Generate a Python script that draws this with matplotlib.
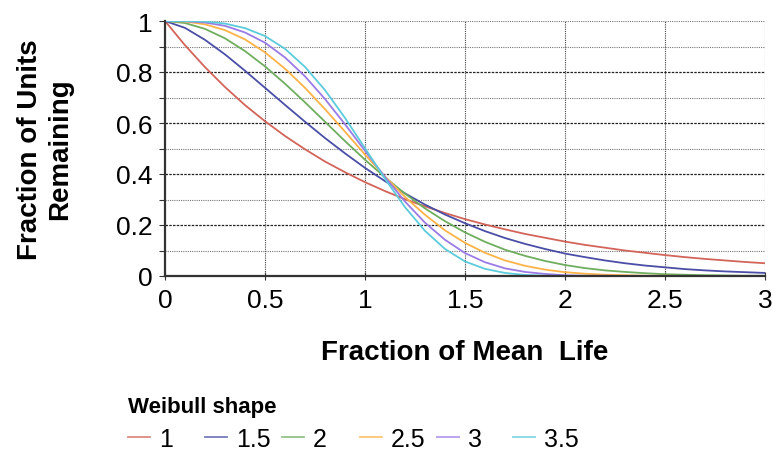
import matplotlib
matplotlib.use("Agg")
import matplotlib.pyplot as plt
from matplotlib.lines import Line2D
from matplotlib.ticker import MultipleLocator

plt.rcParams['font.family'] = ['Liberation Sans', 'DejaVu Sans']

x = [0.0, 0.1, 0.2, 0.3, 0.4, 0.5, 0.6, 0.7, 0.8, 0.9, 1.0,
     1.1, 1.2, 1.3, 1.4, 1.5, 1.6, 1.7, 1.8, 1.9, 2.0,
     2.1, 2.2, 2.3, 2.4, 2.5, 2.6, 2.7, 2.8, 2.9, 3.0]

shape_1 = [1.000, 0.905, 0.819, 0.741, 0.670, 0.607, 0.549, 0.497, 0.449, 0.407, 0.368,
           0.333, 0.301, 0.273, 0.247, 0.223, 0.202, 0.183, 0.165, 0.150, 0.135,
           0.122, 0.111, 0.100, 0.091, 0.082, 0.074, 0.067, 0.061, 0.055, 0.050]
shape_1_5 = [1.000, 0.973, 0.926, 0.869, 0.805, 0.738, 0.671, 0.605, 0.541, 0.481, 0.424,
             0.372, 0.324, 0.280, 0.241, 0.207, 0.176, 0.149, 0.126, 0.106, 0.088,
             0.074, 0.061, 0.050, 0.041, 0.034, 0.027, 0.022, 0.018, 0.015, 0.012]
shape_2 = [1.000, 0.992, 0.969, 0.932, 0.882, 0.822, 0.754, 0.681, 0.605, 0.529, 0.456,
           0.387, 0.323, 0.265, 0.215, 0.171, 0.134, 0.103, 0.079, 0.059, 0.043,
           0.031, 0.022, 0.016, 0.011, 0.007, 0.005, 0.003, 0.002, 0.001, 0.001]
shape_2_5 = [1.000, 0.998, 0.987, 0.964, 0.928, 0.877, 0.813, 0.738, 0.654, 0.566, 0.476,
             0.390, 0.310, 0.240, 0.179, 0.130, 0.091, 0.061, 0.040, 0.025, 0.015,
             0.009, 0.005, 0.003, 0.001, 0.001, 0.000, 0.000, 0.000, 0.000, 0.000]
shape_3 = [1.000, 0.999, 0.994, 0.981, 0.955, 0.915, 0.857, 0.783, 0.694, 0.595, 0.491,
           0.388, 0.292, 0.209, 0.142, 0.090, 0.054, 0.030, 0.016, 0.008, 0.003,
           0.001, 0.001, 0.000, 0.000, 0.000, 0.000, 0.000, 0.000, 0.000, 0.000]
shape_3_5 = [1.000, 1.000, 0.998, 0.990, 0.972, 0.941, 0.891, 0.820, 0.729, 0.620, 0.501,
             0.381, 0.270, 0.177, 0.106, 0.057, 0.028, 0.012, 0.004, 0.001, 0.000,
             0.000, 0.000, 0.000, 0.000, 0.000, 0.000, 0.000, 0.000, 0.000, 0.000]

labels = ["1", "1.5", "2", "2.5", "3", "3.5"]
series = [shape_1, shape_1_5, shape_2, shape_2_5, shape_3, shape_3_5]
colors = ["#D2645A", "#4A4EA6", "#6FAE5E", "#FFB347", "#9A7BE6", "#5CCBDB"]

W, H = 772, 452
fig = plt.figure(figsize=(W / 100, H / 100), dpi=100)
ax = fig.add_axes([165 / W, (H - 277) / H, 600 / W, 255 / H])

# grid
for yv in [0.2, 0.4, 0.6, 0.8]:
    ax.axhline(yv, color="#222222", lw=0.9, ls=(0, (2, 1)), zorder=1)
for yv in [0.1, 0.3, 0.5, 0.7, 0.9, 1.0]:
    ax.axhline(yv, color="#777777", lw=0.8, ls=(0, (1, 1)), zorder=1)
for xv in [0.5, 1.0, 1.5, 2.0, 2.5, 3.0]:
    ax.axvline(xv, color="#444444", lw=0.8, ls=(0, (1, 1)), zorder=1)

for ys, c, lab in zip(series, colors, labels):
    ax.plot(x, ys, color=c, lw=1.3, label=lab, zorder=3)

ax.set_xlim(0, 3)
ax.set_ylim(0, 1)
ax.yaxis.set_minor_locator(MultipleLocator(0.1))
ax.set_xticks([0, 0.5, 1, 1.5, 2, 2.5, 3])
ax.set_xticklabels(["0", "0.5", "1", "1.5", "2", "2.5", "3"])
ax.set_yticks([0, 0.2, 0.4, 0.6, 0.8, 1.0])
ax.set_yticklabels(["0", "0.2", "0.4", "0.6", "0.8", "1"])

for s in ["top", "right"]:
    ax.spines[s].set_visible(False)
for s in ["left", "bottom"]:
    ax.spines[s].set_color("#333333")
    ax.spines[s].set_linewidth(1.6)
    ax.spines[s].set_zorder(4)

ax.tick_params(axis="x", direction="inout", length=6, width=0.8, color="#333333",
               labelsize=19, pad=6)
ax.tick_params(axis="y", which="major", direction="out", length=4, width=0.8,
               color="#333333", labelsize=19, pad=5)
ax.tick_params(axis="y", which="minor", direction="out", length=4, width=0.8,
               color="#333333")

fig.text(45 / W, 1 - 149.5 / H, "Fraction of Units\nRemaining", rotation=90,
         ha="center", va="center", multialignment="center", fontsize=20,
         fontweight="bold", linespacing=1.2)
fig.text(465 / W, (H - 360) / H, "Fraction of Mean  Life", ha="center",
         va="baseline", fontsize=20, fontweight="bold")

# legend
fig.text(128 / W, (H - 413) / H, "Weibull shape", ha="left", va="baseline",
         fontsize=16, fontweight="bold")
starts = [128, 205, 282, 360, 437, 513]
for xs, c, lab in zip(starts, colors, labels):
    fig.add_artist(Line2D([xs / W, (xs + 22) / W], [(H - 437.5) / H] * 2,
                          color=c, lw=1.3, alpha=0.75))
    fig.text((xs + 31) / W, (H - 447) / H, lab, ha="left", va="baseline",
             fontsize=18)

fig.savefig("out.png", dpi=100)
